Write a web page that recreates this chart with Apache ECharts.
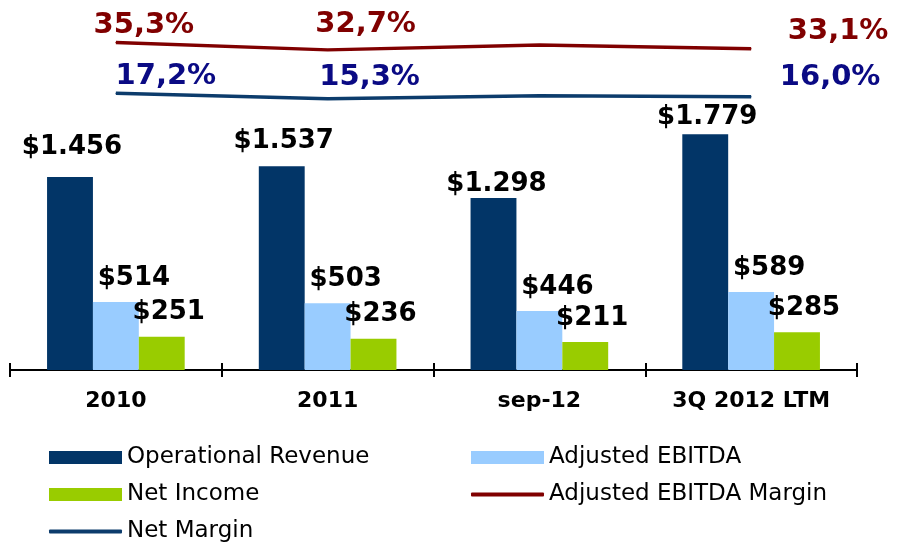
<!DOCTYPE html>
<html>
<head>
<meta charset="utf-8">
<script src="https://cdn.jsdelivr.net/npm/echarts@6/dist/echarts.min.js"></script>
<style>
  html, body { margin: 0; padding: 0; background: #fff; }
  #chart { width: 897px; height: 545px; }
</style>
</head>
<body>
<div id="chart"></div>
<script>
const categories = ["2010", "2011", "sep-12", "3Q 2012 LTM"];
const operationalRevenue = [1456, 1537, 1298, 1779];
const adjustedEbitda = [514, 503, 446, 589];
const netIncome = [251, 236, 211, 285];
const ebitdaMargin = [35.3, 32.7, 34.4, 33.1];
const netMargin = [17.2, 15.3, 16.3, 16.0];
const marginLabelShown = [true, true, false, true];

// label nudges
const revenueLabelNudge = [[2, -12], [2, -7], [3, 4], [2, 1]];
const ebitdaMarginLabelPos = [[28, -17], [38, -25], [0, 0], [87, -17]];
const netMarginLabelPos = [[50, -17], [42, -21], [0, 0], [79, -19]];

const font = "DejaVu Sans";
const money = (v) => "$" + String(v).replace(/\B(?=(\d{3})+(?!\d))/g, ".");
const pct = (v) => v.toFixed(1).replace(".", ",") + "%";

function marginData(values, pos) {
  return values.map((v, i) => ({
    value: v,
    label: { show: marginLabelShown[i], offset: pos[i] },
  }));
}

const chart = echarts.init(document.getElementById("chart"));

const legendText = { fontFamily: font, fontSize: 23, color: "#000" };
function legendAt(name, left, top, line) {
  return {
    data: [name],
    left: left,
    top: top,
    padding: 0,
    icon: line ? "roundRect" : "rect",
    itemWidth: 73,
    itemHeight: line ? 4 : 13,
    textStyle: legendText,
    selectedMode: false,
  };
}

const barLabel = {
  show: true,
  position: "top",
  formatter: (p) => money(p.value),
  fontFamily: font,
  fontWeight: "bold",
  fontSize: 26,
  color: "#000",
};

chart.setOption({
  animation: false,
  grid: [
    { left: 10, right: 40, top: 105, bottom: 175 },
    { left: 10, right: 40, top: 0, height: 141.5 },
  ],
  legend: [
    legendAt("Operational Revenue", 49, 446),
    legendAt("Adjusted EBITDA", 471, 446),
    legendAt("Net Income", 49, 483),
    legendAt("Adjusted EBITDA Margin", 471, 483, true),
    legendAt("Net Margin", 49, 520, true),
  ],
  xAxis: [
    {
      type: "category",
      data: categories,
      gridIndex: 0,
      axisLine: { show: true, lineStyle: { color: "#000", width: 2 } },
      axisTick: { show: true, length: 7, lineStyle: { color: "#000", width: 2 } },
      axisLabel: {
        margin: 20,
        fontFamily: font,
        fontWeight: "bold",
        fontSize: 22,
        color: "#000",
      },
    },
    {
      type: "category",
      data: categories,
      gridIndex: 0,
      position: "bottom",
      axisLine: { show: false },
      axisTick: { show: true, inside: true, length: 7, lineStyle: { color: "#000", width: 2 } },
      axisLabel: { show: false },
    },
    { type: "category", data: categories, gridIndex: 1, show: false },
  ],
  yAxis: [
    { type: "value", gridIndex: 0, min: 0, max: 2000, show: false },
    { type: "value", gridIndex: 1, min: 0, max: 50.5, show: false },
  ],
  series: [
    {
      name: "Operational Revenue",
      type: "bar",
      data: operationalRevenue.map((v, i) => ({
        value: v,
        label: { offset: revenueLabelNudge[i] },
      })),
      barGap: "0%",
      barCategoryGap: "35%",
      itemStyle: { color: "#023567" },
      label: Object.assign({}, barLabel, { distance: 5 }),
    },
    {
      name: "Adjusted EBITDA",
      type: "bar",
      data: adjustedEbitda,
      itemStyle: { color: "#99ccff" },
      label: Object.assign({}, barLabel, { distance: 11, offset: [18, 0] }),
    },
    {
      name: "Net Income",
      type: "bar",
      data: netIncome,
      itemStyle: { color: "#99cc00" },
      label: Object.assign({}, barLabel, { distance: 11, offset: [7, 0] }),
    },
    {
      name: "Adjusted EBITDA Margin",
      type: "line",
      xAxisIndex: 2,
      yAxisIndex: 1,
      data: marginData(ebitdaMargin, ebitdaMarginLabelPos),
      color: "#800000",
      symbol: "circle",
      symbolSize: 1,
      lineStyle: { color: "#800000", width: 3.5 },
      itemStyle: { color: "#800000" },
      label: {
        position: "inside",
        formatter: (p) => pct(p.value),
        fontFamily: font,
        fontWeight: "bold",
        fontSize: 29,
        color: "#800000",
      },
    },
    {
      name: "Net Margin",
      type: "line",
      xAxisIndex: 2,
      yAxisIndex: 1,
      data: marginData(netMargin, netMarginLabelPos),
      color: "#0c3c6c",
      symbol: "circle",
      symbolSize: 1,
      lineStyle: { color: "#0c3c6c", width: 3.5 },
      itemStyle: { color: "#0c3c6c" },
      label: {
        position: "inside",
        formatter: (p) => pct(p.value),
        fontFamily: font,
        fontWeight: "bold",
        fontSize: 29,
        color: "#0a0a84",
      },
    },
  ],
});
</script>
</body>
</html>
